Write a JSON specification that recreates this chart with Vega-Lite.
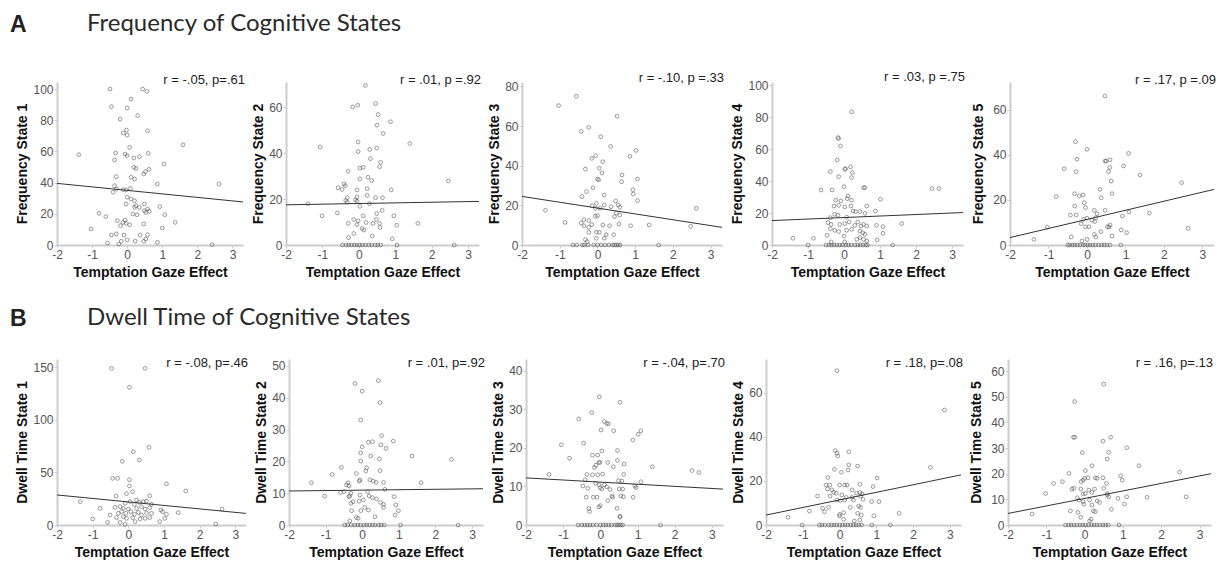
{
"$schema": "https://vega.github.io/schema/vega-lite/v6.json",
"padding": {"left": 9, "top": 12, "right": 4, "bottom": 2},
"background": "white",
"config": {
 "view": {"stroke": null},
 "axis": {"grid": false, "domainColor": "#cccccc", "domainWidth": 2, "tickColor": "#cccccc", "tickSize": 3, "labelColor": "#555555", "labelFont": "Liberation Sans", "labelFontSize": 12, "labelFlush": false, "labelOverlap": false, "labelPadding": 1, "titleFont": "Liberation Sans", "titleFontSize": 14, "titleFontWeight": "bold", "titleColor": "#111111"},
 "axisX": {"titlePadding": 5, "tickCount": 12, "labelExpr": "datum.value < 0 ? '-' + abs(datum.value) : '' + datum.value"},
 "axisY": {"titlePadding": 3, "labelOverlap": false, "tickCount": 12},
 "point": {"shape": "circle", "filled": false, "size": 14, "stroke": "#4a4a4a", "strokeWidth": 0.8},
 "line": {"color": "#333333", "strokeWidth": 1},
 "title": {"anchor": "end", "frame": "group", "font": "Liberation Sans", "fontSize": 13, "fontWeight": "normal", "color": "#222222", "offset": -5, "dx": 2}
},
"datasets": {
 "fits": [
  {"p": "f1", "x": -2, "y": 39.5}, {"p": "f1", "x": 3.3, "y": 27.6},
  {"p": "f2", "x": -2, "y": 17.5}, {"p": "f2", "x": 3.3, "y": 19},
  {"p": "f3", "x": -2, "y": 24.5}, {"p": "f3", "x": 3.3, "y": 8.9},
  {"p": "f4", "x": -2, "y": 15.3}, {"p": "f4", "x": 3.3, "y": 20.3},
  {"p": "f5", "x": -2, "y": 3.3}, {"p": "f5", "x": 3.3, "y": 24.7},
  {"p": "d1", "x": -2, "y": 28.5}, {"p": "d1", "x": 3.3, "y": 11},
  {"p": "d2", "x": -2, "y": 10.7}, {"p": "d2", "x": 3.3, "y": 11.4},
  {"p": "d3", "x": -2, "y": 12.2}, {"p": "d3", "x": 3.3, "y": 9.3},
  {"p": "d4", "x": -2, "y": 4.5}, {"p": "d4", "x": 3.3, "y": 22.7},
  {"p": "d5", "x": -2, "y": 4.5}, {"p": "d5", "x": 3.3, "y": 20}
 ],
 "f1": [
  {"x":-0.49,"y":100},{"x":0.44,"y":100},{"x":0.56,"y":98.5},{"x":0.11,"y":93.6},{"x":-0.45,"y":88.7},{"x":0,"y":87.8},{"x":0.3,"y":83},{"x":-0.2,"y":80.8},{"x":-0.11,"y":71.8},{"x":-0.02,"y":73.7},{"x":0,"y":70.5},{"x":0.58,"y":73.3},{"x":0.07,"y":62.6},{"x":1.59,"y":64.3},{"x":-1.38,"y":57.9},{"x":-0.33,"y":59},{"x":-0.06,"y":58.3},{"x":0,"y":57.3},{"x":0.19,"y":55.8},{"x":0.35,"y":56.6},{"x":0.6,"y":58.8},{"x":-0.36,"y":54.5},{"x":0.19,"y":49.8},{"x":0.25,"y":49.1},{"x":0.62,"y":48.5},{"x":0.52,"y":47},{"x":0.47,"y":45.5},{"x":1.05,"y":51.9},{"x":-0.31,"y":43.8},{"x":0.11,"y":43.4},{"x":0.21,"y":42.3},{"x":-0.36,"y":38},{"x":-0.31,"y":35.9},{"x":-0.12,"y":35.5},{"x":-0.03,"y":35.3},{"x":-0.4,"y":33.8},{"x":0.09,"y":36.3},{"x":0.86,"y":39.1},{"x":2.62,"y":39.1},{"x":0,"y":30.6},{"x":0.11,"y":29.5},{"x":0.21,"y":28.4},{"x":-0.03,"y":26.3},{"x":0.25,"y":25.2},{"x":0.35,"y":24.1},{"x":0.21,"y":24.1},{"x":0.49,"y":26.3},{"x":0.58,"y":23.1},{"x":0.49,"y":22},{"x":0.63,"y":21.6},{"x":0.53,"y":20.9},{"x":0.16,"y":19.9},{"x":0.28,"y":19.4},{"x":0.93,"y":24.6},{"x":1.07,"y":19.4},{"x":-0.8,"y":20.3},{"x":-0.61,"y":18.2},{"x":-0.28,"y":15.6},{"x":-0.12,"y":14.5},{"x":-0.03,"y":13.9},{"x":0.07,"y":13},{"x":-0.19,"y":12.4},{"x":-0.06,"y":16},{"x":0.47,"y":13.5},{"x":1.37,"y":14.5},{"x":-1.03,"y":10.3},{"x":1,"y":10.9},{"x":-0.45,"y":6.4},{"x":-0.31,"y":7.1},{"x":-0.09,"y":6.4},{"x":0.37,"y":6.4},{"x":0.58,"y":6.6},{"x":-0.56,"y":1.3},{"x":-0.17,"y":2.4},{"x":0.23,"y":2.4},{"x":0.47,"y":2.4},{"x":0.86,"y":1.7},{"x":-0.24,"y":0.6},{"x":2.42,"y":0.2},{"x":0,"y":3.2},{"x":0.53,"y":3.8}
 ],
 "f2": [
  {"x":0.18,"y":69.5},{"x":-0.17,"y":60.1},{"x":-0.03,"y":60.9},{"x":0.46,"y":61.6},{"x":0.53,"y":56.8},{"x":0.5,"y":52.2},{"x":0.87,"y":53.7},{"x":0.67,"y":48.6},{"x":-1.06,"y":42.7},{"x":-0.02,"y":44.9},{"x":1.4,"y":44.2},{"x":-0.02,"y":40.7},{"x":0.49,"y":42.2},{"x":0.3,"y":41.6},{"x":0.32,"y":37.6},{"x":0.12,"y":33.8},{"x":0.03,"y":33.5},{"x":0.57,"y":34.1},{"x":0.6,"y":36},{"x":-0.29,"y":32.1},{"x":0.03,"y":28.8},{"x":0.25,"y":29.5},{"x":0.35,"y":28.1},{"x":2.46,"y":27.9},{"x":-0.41,"y":26.6},{"x":-0.37,"y":25.8},{"x":-0.57,"y":24.9},{"x":-0.46,"y":24.2},{"x":0.23,"y":24.5},{"x":-0.05,"y":24},{"x":-0.05,"y":20.9},{"x":0.23,"y":21.6},{"x":-0.32,"y":20.6},{"x":-0.36,"y":19.4},{"x":-0.32,"y":18.7},{"x":-0.09,"y":19.7},{"x":-0.05,"y":19.1},{"x":0.03,"y":16.8},{"x":-1.4,"y":18},{"x":0.46,"y":20.6},{"x":0.65,"y":20.6},{"x":0.89,"y":24},{"x":0.29,"y":18},{"x":0.64,"y":15.1},{"x":0.49,"y":13.7},{"x":-0.59,"y":14},{"x":-1.01,"y":12.7},{"x":0.12,"y":12.7},{"x":-0.14,"y":11.1},{"x":-0.02,"y":10.5},{"x":0.48,"y":11.1},{"x":0.96,"y":12.7},{"x":-0.29,"y":9.4},{"x":-0.05,"y":8.9},{"x":0.2,"y":9.8},{"x":0.39,"y":9.4},{"x":0.57,"y":9.4},{"x":0.58,"y":7.6},{"x":1.04,"y":8.6},{"x":1.62,"y":9.4},{"x":-0.14,"y":5},{"x":0.14,"y":6.5},{"x":0.09,"y":7.2},{"x":0.37,"y":3.9},{"x":-0.28,"y":3.2},{"x":0.92,"y":2.7},
  {"x":-0.45,"y":0},{"x":-0.35,"y":0},{"x":-0.28,"y":0},{"x":-0.2,"y":0},{"x":-0.12,"y":0},{"x":-0.05,"y":0},{"x":0.02,"y":0},{"x":0.1,"y":0},{"x":0.18,"y":0},{"x":0.27,"y":0},{"x":0.35,"y":0},{"x":0.45,"y":0},{"x":0.52,"y":0},{"x":0.6,"y":0},{"x":1.05,"y":0},{"x":2.62,"y":0}
 ],
 "f3": [
  {"x":-0.56,"y":75},{"x":-1.03,"y":70.3},{"x":0.52,"y":64.9},{"x":-0.23,"y":59.3},{"x":-0.43,"y":57.3},{"x":0.09,"y":54.6},{"x":0.35,"y":49.7},{"x":-0.05,"y":45},{"x":-0.15,"y":43.7},{"x":0.86,"y":44.7},{"x":1.02,"y":47.7},{"x":0.14,"y":42},{"x":-0.32,"y":38.3},{"x":0.05,"y":38.7},{"x":0.12,"y":36.3},{"x":0.65,"y":35.3},{"x":1.06,"y":33.3},{"x":0,"y":33.3},{"x":0.03,"y":32.9},{"x":0.64,"y":31.9},{"x":-0.12,"y":28.9},{"x":-0.29,"y":26.9},{"x":0.94,"y":27.9},{"x":0.95,"y":25.7},{"x":0.18,"y":25.2},{"x":-0.41,"y":24.4},{"x":-0.03,"y":21},{"x":0.18,"y":20.2},{"x":0.48,"y":22.2},{"x":0.55,"y":20.2},{"x":1.06,"y":22.4},{"x":-0.14,"y":19.8},{"x":-0.05,"y":18.5},{"x":0.07,"y":18.5},{"x":0.36,"y":19.3},{"x":0.59,"y":19},{"x":-1.38,"y":17.5},{"x":2.62,"y":18.5},{"x":0.5,"y":16.1},{"x":0.59,"y":15.1},{"x":0.45,"y":14.3},{"x":-0.36,"y":12.8},{"x":-0.23,"y":12.3},{"x":-0.06,"y":14.5},{"x":0,"y":14.8},{"x":-0.86,"y":11.4},{"x":-0.15,"y":10.3},{"x":0.14,"y":10.1},{"x":0.32,"y":9.7},{"x":0.57,"y":10.6},{"x":0.88,"y":9.7},{"x":1.37,"y":10.1},{"x":2.47,"y":9.4},{"x":-0.43,"y":11.1},{"x":-0.36,"y":9.7},{"x":-0.23,"y":8.9},{"x":-0.03,"y":6.4},{"x":0.05,"y":6.4},{"x":-0.23,"y":6.4},{"x":0.23,"y":5.2},{"x":0.43,"y":5.2},{"x":-0.03,"y":3.4},{"x":0.18,"y":3.4},{"x":-0.32,"y":2.7},{"x":-0.27,"y":1.7},
  {"x":-0.65,"y":0},{"x":-0.55,"y":0},{"x":-0.4,"y":0},{"x":-0.35,"y":0},{"x":-0.25,"y":0},{"x":-0.1,"y":0},{"x":0,"y":0},{"x":0.1,"y":0},{"x":0.2,"y":0},{"x":0.3,"y":0},{"x":0.4,"y":0},{"x":0.45,"y":0},{"x":0.5,"y":0},{"x":0.55,"y":0},{"x":0.6,"y":0},{"x":1.62,"y":0}
 ],
 "f4": [
  {"x":0.21,"y":83.3},{"x":-0.17,"y":67.2},{"x":-0.15,"y":66.6},{"x":-0.1,"y":62},{"x":-0.19,"y":53.2},{"x":0.18,"y":48.9},{"x":0.02,"y":47.4},{"x":0.04,"y":47.8},{"x":0.23,"y":45.3},{"x":-0.38,"y":45.9},{"x":-0.15,"y":42.8},{"x":0.21,"y":42.2},{"x":0.54,"y":35.9},{"x":0.58,"y":35.9},{"x":0,"y":36.5},{"x":-0.64,"y":34.4},{"x":-0.33,"y":34.4},{"x":2.44,"y":35.3},{"x":2.63,"y":35.3},{"x":1.01,"y":28.6},{"x":-0.23,"y":28},{"x":-0.09,"y":27.6},{"x":0.11,"y":30.7},{"x":0.09,"y":29},{"x":0.21,"y":28},{"x":-0.28,"y":24.4},{"x":-0.15,"y":24.8},{"x":0.19,"y":24.4},{"x":0.02,"y":23.8},{"x":0.63,"y":24.4},{"x":-0.26,"y":19.2},{"x":-0.17,"y":18.6},{"x":0.07,"y":17.5},{"x":0.32,"y":20.9},{"x":0.44,"y":20.9},{"x":0.25,"y":21.3},{"x":0.87,"y":21.3},{"x":0.58,"y":19.8},{"x":-0.38,"y":17.1},{"x":-0.45,"y":14},{"x":-0.36,"y":12.9},{"x":-0.12,"y":12.9},{"x":0.02,"y":13.4},{"x":0.14,"y":14.4},{"x":0.38,"y":14.4},{"x":0.3,"y":12.3},{"x":0.47,"y":11.9},{"x":0.54,"y":12.9},{"x":0.63,"y":11.9},{"x":0.9,"y":12.3},{"x":1.08,"y":11.5},{"x":1.6,"y":13.4},{"x":-0.38,"y":10.2},{"x":-0.26,"y":9.2},{"x":-0.15,"y":8.4},{"x":0.07,"y":9.2},{"x":0.21,"y":9.8},{"x":0.44,"y":8.8},{"x":0.52,"y":7.7},{"x":0.58,"y":6.7},{"x":1.08,"y":7.3},{"x":-0.47,"y":6.1},{"x":0,"y":5.6},{"x":-0.85,"y":4.2},{"x":-1.42,"y":4.2},{"x":0.35,"y":3.5},{"x":0.54,"y":3.5},{"x":0.44,"y":4.6},{"x":0.92,"y":3.1},{"x":0.63,"y":2.5},{"x":-0.36,"y":1.9},{"x":0.02,"y":1.9},
  {"x":-1,"y":0},{"x":-0.5,"y":0},{"x":-0.42,"y":0},{"x":-0.35,"y":0},{"x":-0.28,"y":0},{"x":-0.2,"y":0},{"x":-0.12,"y":0},{"x":-0.05,"y":0},{"x":0.05,"y":0},{"x":0.12,"y":0},{"x":0.2,"y":0},{"x":0.3,"y":0},{"x":0.38,"y":0},{"x":0.45,"y":0},{"x":0.52,"y":0},{"x":0.6,"y":0},{"x":0.65,"y":0},{"x":1.35,"y":0}
 ],
 "f5": [
  {"x":0.47,"y":66.2},{"x":-0.3,"y":45.9},{"x":0,"y":42.5},{"x":1.08,"y":40.7},{"x":-0.26,"y":38.1},{"x":0.47,"y":37.3},{"x":0.5,"y":37.3},{"x":0.6,"y":37.8},{"x":-0.59,"y":33.9},{"x":-0.28,"y":32.6},{"x":0.59,"y":34.4},{"x":0.56,"y":32.6},{"x":0.95,"y":35.1},{"x":1.38,"y":31.1},{"x":0.63,"y":28.4},{"x":2.46,"y":27.7},{"x":0.34,"y":24.7},{"x":-0.32,"y":22.8},{"x":-0.2,"y":21.8},{"x":-0.1,"y":22.2},{"x":0.65,"y":22.8},{"x":-0.8,"y":21.5},{"x":0.37,"y":21},{"x":-0.32,"y":17.3},{"x":-0.07,"y":18.8},{"x":-0.04,"y":16.6},{"x":0.47,"y":15.4},{"x":0.19,"y":15.4},{"x":1.09,"y":14.7},{"x":1.62,"y":14.1},{"x":-0.43,"y":13.3},{"x":-0.28,"y":13.3},{"x":0.26,"y":13.9},{"x":0.23,"y":12.1},{"x":0.92,"y":12.9},{"x":0,"y":11.9},{"x":-0.09,"y":11.4},{"x":0.13,"y":11},{"x":0.2,"y":10.4},{"x":0.6,"y":8.9},{"x":0.53,"y":8.1},{"x":0.57,"y":8},{"x":-1.03,"y":8},{"x":-0.15,"y":9.5},{"x":-0.04,"y":8.1},{"x":0.05,"y":8.1},{"x":2.63,"y":7.4},{"x":0.36,"y":5.9},{"x":0.89,"y":6.7},{"x":1.03,"y":5.5},{"x":0.19,"y":4.7},{"x":0.23,"y":3.6},{"x":0.65,"y":4},{"x":-0.41,"y":3.6},{"x":-1.38,"y":2.5},{"x":-0.13,"y":1.8},{"x":0,"y":2.5},
  {"x":-0.5,"y":0},{"x":-0.45,"y":0},{"x":-0.38,"y":0},{"x":-0.32,"y":0},{"x":-0.25,"y":0},{"x":-0.18,"y":0},{"x":-0.1,"y":0},{"x":-0.05,"y":0},{"x":0.02,"y":0},{"x":0.08,"y":0},{"x":0.15,"y":0},{"x":0.22,"y":0},{"x":0.3,"y":0},{"x":0.38,"y":0},{"x":0.45,"y":0},{"x":0.52,"y":0},{"x":0.6,"y":0},{"x":0.88,"y":0}
 ],
 "d1": [
  {"x":-0.47,"y":148.7},{"x":0.47,"y":148.7},{"x":0.03,"y":130.7},{"x":0.58,"y":73.7},{"x":0.14,"y":69.6},{"x":0.31,"y":61.7},{"x":-0.17,"y":60.4},{"x":-0.44,"y":44.3},{"x":-0.3,"y":44.3},{"x":0.03,"y":43},{"x":1.07,"y":39.2},{"x":1.61,"y":32.3},{"x":0.03,"y":37},{"x":-0.34,"y":27.5},{"x":-0.05,"y":29.7},{"x":0.12,"y":31.6},{"x":0.6,"y":27.8},{"x":-1.35,"y":22.2},{"x":0.23,"y":23.7},{"x":0.42,"y":22.2},{"x":0.51,"y":22.8},{"x":-0.09,"y":20.6},{"x":0.05,"y":22.2},{"x":0.17,"y":19.6},{"x":0.31,"y":21.5},{"x":0.65,"y":19.6},{"x":-0.79,"y":15.8},{"x":-0.37,"y":16.8},{"x":-0.23,"y":17.4},{"x":-0.14,"y":15.8},{"x":0,"y":15.2},{"x":0.23,"y":15.8},{"x":0.37,"y":17.4},{"x":0.47,"y":15.2},{"x":0.6,"y":16.5},{"x":2.63,"y":15.2},{"x":-0.51,"y":9.5},{"x":-0.28,"y":11.1},{"x":-0.19,"y":12.7},{"x":-0.07,"y":11.1},{"x":0.07,"y":12.7},{"x":0.17,"y":10.1},{"x":0.28,"y":12},{"x":0.37,"y":9.5},{"x":0.51,"y":11.1},{"x":0.65,"y":11.1},{"x":0.91,"y":14.2},{"x":0.96,"y":12.7},{"x":1.07,"y":10.1},{"x":1.4,"y":11.7},{"x":-0.33,"y":7},{"x":-0.14,"y":7.9},{"x":-0.05,"y":6.3},{"x":0.12,"y":7},{"x":0.33,"y":5.7},{"x":0.47,"y":6.3},{"x":0.6,"y":7},{"x":-1,"y":5.7},{"x":1.02,"y":6.3},{"x":-0.58,"y":2.5},{"x":-0.23,"y":2.5},{"x":0.19,"y":3.2},{"x":0.88,"y":3.2},{"x":2.45,"y":0.9},{"x":-0.09,"y":0.6}
 ],
 "d2": [
  {"x":0.44,"y":45.4},{"x":-0.2,"y":44.5},{"x":0,"y":42.1},{"x":0.49,"y":38.5},{"x":-0.04,"y":33},{"x":0.53,"y":28.1},{"x":0.17,"y":26},{"x":0.28,"y":26.2},{"x":0.85,"y":26.4},{"x":0.51,"y":25.2},{"x":0.65,"y":24.1},{"x":0,"y":24.6},{"x":-0.04,"y":22.7},{"x":0.23,"y":21.7},{"x":1.36,"y":21.7},{"x":2.44,"y":20.6},{"x":-0.04,"y":20.1},{"x":0.47,"y":20.8},{"x":-0.57,"y":18.1},{"x":0.12,"y":18},{"x":0.1,"y":17},{"x":0.49,"y":17.1},{"x":-0.82,"y":15.9},{"x":-0.16,"y":16.2},{"x":-0.06,"y":14.2},{"x":-0.08,"y":13.8},{"x":0.21,"y":14.2},{"x":0.3,"y":13.8},{"x":0.38,"y":13.4},{"x":-0.39,"y":13.3},{"x":-1.39,"y":13.3},{"x":-0.43,"y":12.6},{"x":-0.36,"y":12.3},{"x":0.58,"y":13.4},{"x":1.61,"y":13.3},{"x":0.62,"y":11.2},{"x":-0.5,"y":10.5},{"x":-0.31,"y":10},{"x":-0.06,"y":9.4},{"x":0.15,"y":10.5},{"x":-0.59,"y":10.2},{"x":-0.34,"y":9.2},{"x":0.19,"y":9.1},{"x":-0.36,"y":8.9},{"x":-1.03,"y":9.1},{"x":0.87,"y":8.9},{"x":0.28,"y":8.6},{"x":0.39,"y":8.2},{"x":-0.08,"y":7.5},{"x":0.03,"y":7.9},{"x":-0.25,"y":7.3},{"x":0.5,"y":7.1},{"x":0.58,"y":6.5},{"x":0.58,"y":5.6},{"x":0.92,"y":6.3},{"x":-0.31,"y":6.8},{"x":0.07,"y":5.5},{"x":0.17,"y":4.7},{"x":0.99,"y":4.5},{"x":-0.29,"y":4.5},{"x":-0.04,"y":4.5},{"x":0.9,"y":3.1},{"x":-0.16,"y":2.3},{"x":0.35,"y":2.6},{"x":-0.11,"y":2.1},{"x":-0.34,"y":1.3},
  {"x":-0.48,"y":0},{"x":-0.4,"y":0},{"x":-0.3,"y":0},{"x":-0.2,"y":0},{"x":-0.12,"y":0},{"x":-0.05,"y":0},{"x":0.05,"y":0},{"x":0.12,"y":0},{"x":0.2,"y":0},{"x":0.28,"y":0},{"x":0.35,"y":0},{"x":0.45,"y":0},{"x":0.52,"y":0},{"x":0.6,"y":0},{"x":1.05,"y":0},{"x":2.62,"y":0}
 ],
 "d3": [
  {"x":-0.03,"y":33.2},{"x":0.53,"y":31.8},{"x":-0.58,"y":27.5},{"x":-0.23,"y":29.1},{"x":0.11,"y":26.8},{"x":0.17,"y":26.3},{"x":0.22,"y":26.2},{"x":0.36,"y":24.4},{"x":0.02,"y":24.6},{"x":1.09,"y":24.4},{"x":1.02,"y":23.5},{"x":0.88,"y":22},{"x":-1.05,"y":20.8},{"x":-0.45,"y":21.2},{"x":0.46,"y":19.3},{"x":-0.83,"y":17.3},{"x":-0.21,"y":18.1},{"x":-0.07,"y":18.1},{"x":0.04,"y":19.2},{"x":-0.04,"y":16.2},{"x":-0.01,"y":16.2},{"x":0.46,"y":16.7},{"x":0.2,"y":16.2},{"x":0.64,"y":15.8},{"x":-0.16,"y":14.9},{"x":-0.12,"y":15.5},{"x":0.35,"y":15.1},{"x":1.4,"y":15.1},{"x":2.47,"y":14.1},{"x":2.65,"y":13.6},{"x":-1.38,"y":13.1},{"x":-0.36,"y":13.1},{"x":-0.21,"y":13},{"x":-0.07,"y":13},{"x":0.06,"y":13.2},{"x":0.63,"y":13.1},{"x":-0.41,"y":11.7},{"x":0.49,"y":11.5},{"x":0.58,"y":11.4},{"x":1.09,"y":11.2},{"x":-0.47,"y":10.1},{"x":-0.34,"y":9.5},{"x":-0.13,"y":10.8},{"x":-0.03,"y":10.4},{"x":0.11,"y":10.4},{"x":0,"y":9.7},{"x":0.04,"y":9.3},{"x":0.17,"y":9.9},{"x":0.26,"y":9.2},{"x":0.93,"y":10.1},{"x":0.96,"y":9.7},{"x":0.51,"y":9.3},{"x":0.6,"y":9.3},{"x":-0.38,"y":7.2},{"x":-0.19,"y":7.2},{"x":-0.09,"y":7.2},{"x":0.31,"y":7.5},{"x":0.33,"y":7.2},{"x":0.55,"y":7.5},{"x":0.62,"y":7.3},{"x":0.88,"y":7.2},{"x":0.2,"y":6.3},{"x":-0.31,"y":4.3},{"x":-0.29,"y":3.5},{"x":-0.04,"y":4.7},{"x":0,"y":5},{"x":0.45,"y":4.3},{"x":0.53,"y":2.3},{"x":0.53,"y":2},
  {"x":-0.6,"y":0},{"x":-0.5,"y":0},{"x":-0.42,"y":0},{"x":-0.35,"y":0},{"x":-0.28,"y":0},{"x":-0.2,"y":0},{"x":-0.1,"y":0},{"x":0,"y":0},{"x":0.08,"y":0},{"x":0.15,"y":0},{"x":0.22,"y":0},{"x":0.3,"y":0},{"x":0.4,"y":0},{"x":0.45,"y":0},{"x":0.5,"y":0},{"x":0.55,"y":0},{"x":0.6,"y":0},{"x":1.62,"y":0}
 ],
 "d4": [
  {"x":-0.07,"y":69.9},{"x":2.85,"y":52.1},{"x":-0.12,"y":33.7},{"x":-0.07,"y":32.5},{"x":-0.05,"y":31.3},{"x":0.25,"y":33.2},{"x":-0.14,"y":25.2},{"x":0.25,"y":27.2},{"x":0.23,"y":24.9},{"x":0.49,"y":26.7},{"x":0.05,"y":23.9},{"x":2.47,"y":26.1},{"x":1.02,"y":21.3},{"x":-0.32,"y":21.5},{"x":-0.37,"y":18.1},{"x":-0.27,"y":18.1},{"x":0,"y":18.1},{"x":0.14,"y":18.1},{"x":0.2,"y":18.1},{"x":0.55,"y":18.4},{"x":-0.33,"y":16.3},{"x":-0.21,"y":15.9},{"x":0.34,"y":15.9},{"x":0.91,"y":17.4},{"x":-0.16,"y":14.8},{"x":-0.09,"y":14.4},{"x":0.46,"y":14.4},{"x":0.55,"y":14.7},{"x":0.61,"y":14.1},{"x":-0.6,"y":13.1},{"x":-0.26,"y":13.1},{"x":0.06,"y":13.6},{"x":0.18,"y":12.5},{"x":0.34,"y":12.5},{"x":0.57,"y":13.1},{"x":-0.07,"y":11.3},{"x":0.02,"y":11},{"x":0.14,"y":11.3},{"x":0.38,"y":11.3},{"x":0.64,"y":11.6},{"x":1.07,"y":10.6},{"x":0.87,"y":10.6},{"x":-0.46,"y":7.6},{"x":-0.3,"y":8},{"x":0.29,"y":8},{"x":0.52,"y":8.6},{"x":0.57,"y":8},{"x":-0.82,"y":6.3},{"x":-0.41,"y":6},{"x":0.11,"y":5.6},{"x":0.49,"y":5.3},{"x":0.59,"y":4.5},{"x":0,"y":4.8},{"x":0,"y":4.1},{"x":0.93,"y":4.2},{"x":1.62,"y":5.3},{"x":0.55,"y":2.3},{"x":0.11,"y":2.6},{"x":-1.4,"y":3.5},{"x":0.4,"y":1.8},
  {"x":-1.02,"y":0},{"x":-0.55,"y":0},{"x":-0.48,"y":0},{"x":-0.4,"y":0},{"x":-0.3,"y":0},{"x":-0.22,"y":0},{"x":-0.15,"y":0},{"x":-0.08,"y":0},{"x":0,"y":0},{"x":0.08,"y":0},{"x":0.15,"y":0},{"x":0.22,"y":0},{"x":0.3,"y":0},{"x":0.38,"y":0},{"x":0.45,"y":0},{"x":0.52,"y":0},{"x":0.6,"y":0},{"x":0.88,"y":0},{"x":1.38,"y":0}
 ],
 "d5": [
  {"x":0.5,"y":54.9},{"x":-0.26,"y":48.1},{"x":-0.29,"y":34.2},{"x":-0.26,"y":34.2},{"x":0.68,"y":34.2},{"x":0.48,"y":32.7},{"x":-0.06,"y":28.2},{"x":0.63,"y":28.3},{"x":1.1,"y":30.1},{"x":0.59,"y":25.7},{"x":0.19,"y":23.1},{"x":1.42,"y":23.1},{"x":0.02,"y":21.2},{"x":-0.41,"y":20.1},{"x":2.48,"y":20.6},{"x":0.94,"y":19.2},{"x":0.98,"y":17.5},{"x":-0.81,"y":16.2},{"x":-0.58,"y":16.9},{"x":-0.09,"y":16.9},{"x":-0.04,"y":17.5},{"x":0,"y":18.2},{"x":0.09,"y":18.4},{"x":0.28,"y":18.4},{"x":0.33,"y":18.2},{"x":0.48,"y":18.4},{"x":0.57,"y":16.2},{"x":-0.33,"y":14},{"x":-0.28,"y":14.3},{"x":-0.1,"y":14},{"x":0.11,"y":13.6},{"x":0.26,"y":14},{"x":0.5,"y":14.3},{"x":-1.02,"y":12.3},{"x":-0.04,"y":12.1},{"x":0.02,"y":12.3},{"x":0.19,"y":12.7},{"x":0.59,"y":12.3},{"x":0.59,"y":11.7},{"x":0.63,"y":11},{"x":0.87,"y":10.4},{"x":1.1,"y":11},{"x":1.63,"y":10.8},{"x":2.65,"y":11},{"x":-0.19,"y":10.6},{"x":-0.15,"y":9.7},{"x":-0.04,"y":9.1},{"x":0.13,"y":9.7},{"x":0.33,"y":9.4},{"x":0.39,"y":8.8},{"x":-0.02,"y":8.1},{"x":0.19,"y":7.8},{"x":1.04,"y":8.2},{"x":-0.37,"y":5.5},{"x":-0.17,"y":4.9},{"x":0.23,"y":5.5},{"x":0.28,"y":5.2},{"x":0.7,"y":6.1},{"x":-1.37,"y":4.3},{"x":-0.1,"y":3},{"x":0.17,"y":2.3},{"x":0.13,"y":1.6},
  {"x":-0.5,"y":0},{"x":-0.42,"y":0},{"x":-0.35,"y":0},{"x":-0.28,"y":0},{"x":-0.2,"y":0},{"x":-0.12,"y":0},{"x":-0.05,"y":0},{"x":0.02,"y":0},{"x":0.1,"y":0},{"x":0.18,"y":0},{"x":0.25,"y":0},{"x":0.32,"y":0},{"x":0.4,"y":0},{"x":0.48,"y":0},{"x":0.55,"y":0},{"x":0.62,"y":0},{"x":0.9,"y":0}
 ]
},
"spacing": 27,
"vconcat": [
 {
  "title": {"text": "A", "anchor": "start", "frame": "bounds", "font": "Liberation Sans", "fontSize": 23, "fontWeight": "bold", "color": "#222222", "offset": -25, "dx": -6},
  "vconcat": [
   {
    "title": {"text": "Frequency of Cognitive States", "anchor": "start", "frame": "bounds", "font": "Lato", "fontSize": 24, "fontWeight": "normal", "color": "#2a2a2a", "offset": 35, "dx": 71},
    "spacing": 6,
    "hconcat": [
     {"width": 186, "height": 163, "title": {"text": "r = -.05, p=.61"}, "layer": [
      {"data": {"name": "f1"}, "mark": "point", "encoding": {"x": {"field": "x", "type": "quantitative", "title": "Temptation Gaze Effect", "scale": {"domain": [-2, 3.3], "nice": false, "zero": false}, "axis": {"values": [-2, -1, 0, 1, 2, 3], "tickCount": 12}}, "y": {"field": "y", "type": "quantitative", "title": "Frequency State 1", "scale": {"domain": [0, 104.5], "nice": false}, "axis": {"values": [0, 20, 40, 60, 80, 100], "tickCount": 12}}}},
      {"data": {"name": "fits"}, "transform": [{"filter": "datum.p === 'f1'"}], "mark": "line", "encoding": {"x": {"field": "x", "type": "quantitative"}, "y": {"field": "y", "type": "quantitative"}}}]},
     {"width": 193, "height": 163, "title": {"text": "r = .01, p =.92"}, "layer": [
      {"data": {"name": "f2"}, "mark": "point", "encoding": {"x": {"field": "x", "type": "quantitative", "title": "Temptation Gaze Effect", "scale": {"domain": [-2, 3.3], "nice": false, "zero": false}, "axis": {"values": [-2, -1, 0, 1, 2, 3], "tickCount": 12}}, "y": {"field": "y", "type": "quantitative", "title": "Frequency State 2", "scale": {"domain": [0, 71], "nice": false}, "axis": {"values": [0, 20, 40, 60], "tickCount": 12}}}},
      {"data": {"name": "fits"}, "transform": [{"filter": "datum.p === 'f2'"}], "mark": "line", "encoding": {"x": {"field": "x", "type": "quantitative"}, "y": {"field": "y", "type": "quantitative"}}}]},
     {"width": 200, "height": 163, "title": {"text": "r = -.10, p =.33"}, "layer": [
      {"data": {"name": "f3"}, "mark": "point", "encoding": {"x": {"field": "x", "type": "quantitative", "title": "Temptation Gaze Effect", "scale": {"domain": [-2, 3.3], "nice": false, "zero": false}, "axis": {"values": [-2, -1, 0, 1, 2, 3], "tickCount": 12}}, "y": {"field": "y", "type": "quantitative", "title": "Frequency State 3", "scale": {"domain": [0, 82.2], "nice": false}, "axis": {"values": [0, 20, 40, 60, 80], "tickCount": 12}}}},
      {"data": {"name": "fits"}, "transform": [{"filter": "datum.p === 'f3'"}], "mark": "line", "encoding": {"x": {"field": "x", "type": "quantitative"}, "y": {"field": "y", "type": "quantitative"}}}]},
     {"width": 191, "height": 163, "title": {"text": "r = .03, p =.75"}, "layer": [
      {"data": {"name": "f4"}, "mark": "point", "encoding": {"x": {"field": "x", "type": "quantitative", "title": "Temptation Gaze Effect", "scale": {"domain": [-2, 3.3], "nice": false, "zero": false}, "axis": {"values": [-2, -1, 0, 1, 2, 3], "tickCount": 12}}, "y": {"field": "y", "type": "quantitative", "title": "Frequency State 4", "scale": {"domain": [0, 102], "nice": false}, "axis": {"values": [0, 20, 40, 60, 80, 100], "tickCount": 12}}}},
      {"data": {"name": "fits"}, "transform": [{"filter": "datum.p === 'f4'"}], "mark": "line", "encoding": {"x": {"field": "x", "type": "quantitative"}, "y": {"field": "y", "type": "quantitative"}}}]},
     {"width": 204, "height": 163, "title": {"text": "r = .17, p =.09"}, "layer": [
      {"data": {"name": "f5"}, "mark": "point", "encoding": {"x": {"field": "x", "type": "quantitative", "title": "Temptation Gaze Effect", "scale": {"domain": [-2, 3.3], "nice": false, "zero": false}, "axis": {"values": [-2, -1, 0, 1, 2, 3], "tickCount": 12}}, "y": {"field": "y", "type": "quantitative", "title": "Frequency State 5", "scale": {"domain": [0, 72.4], "nice": false}, "axis": {"values": [0, 20, 40, 60], "tickCount": 12, "titlePadding": 7}}}},
      {"data": {"name": "fits"}, "transform": [{"filter": "datum.p === 'f5'"}], "mark": "line", "encoding": {"x": {"field": "x", "type": "quantitative"}, "y": {"field": "y", "type": "quantitative"}}}]}
    ]
   }
  ]
 },
 {
  "title": {"text": "B", "anchor": "start", "frame": "bounds", "font": "Liberation Sans", "fontSize": 23, "fontWeight": "bold", "color": "#222222", "offset": -25, "dx": -6},
  "vconcat": [
   {
    "title": {"text": "Dwell Time of Cognitive States", "anchor": "start", "frame": "bounds", "font": "Lato", "fontSize": 24, "fontWeight": "normal", "color": "#2a2a2a", "offset": 27, "dx": 71},
    "spacing": 6,
    "hconcat": [
     {"width": 189, "height": 166, "title": {"text": "r = -.08, p=.46", "offset": -11}, "layer": [
      {"data": {"name": "d1"}, "mark": "point", "encoding": {"x": {"field": "x", "type": "quantitative", "title": "Temptation Gaze Effect", "scale": {"domain": [-2, 3.3], "nice": false, "zero": false}, "axis": {"values": [-2, -1, 0, 1, 2, 3], "tickCount": 12}}, "y": {"field": "y", "type": "quantitative", "title": "Dwell Time State 1", "scale": {"domain": [0, 157.6], "nice": false}, "axis": {"values": [0, 50, 100, 150], "tickCount": 12}}}},
      {"data": {"name": "fits"}, "transform": [{"filter": "datum.p === 'd1'"}], "mark": "line", "encoding": {"x": {"field": "x", "type": "quantitative"}, "y": {"field": "y", "type": "quantitative"}}}]},
     {"width": 194, "height": 166, "title": {"text": "r = .01, p=.92", "offset": -11}, "layer": [
      {"data": {"name": "d2"}, "mark": "point", "encoding": {"x": {"field": "x", "type": "quantitative", "title": "Temptation Gaze Effect", "scale": {"domain": [-2, 3.3], "nice": false, "zero": false}, "axis": {"values": [-2, -1, 0, 1, 2, 3], "tickCount": 12}}, "y": {"field": "y", "type": "quantitative", "title": "Dwell Time State 2", "scale": {"domain": [0, 52.2], "nice": false}, "axis": {"values": [0, 10, 20, 30, 40, 50], "tickCount": 12}}}},
      {"data": {"name": "fits"}, "transform": [{"filter": "datum.p === 'd2'"}], "mark": "line", "encoding": {"x": {"field": "x", "type": "quantitative"}, "y": {"field": "y", "type": "quantitative"}}}]},
     {"width": 197, "height": 166, "title": {"text": "r = -.04, p=.70", "offset": -11}, "layer": [
      {"data": {"name": "d3"}, "mark": "point", "encoding": {"x": {"field": "x", "type": "quantitative", "title": "Temptation Gaze Effect", "scale": {"domain": [-2, 3.3], "nice": false, "zero": false}, "axis": {"values": [-2, -1, 0, 1, 2, 3], "tickCount": 12}}, "y": {"field": "y", "type": "quantitative", "title": "Dwell Time State 3", "scale": {"domain": [0, 43], "nice": false}, "axis": {"values": [0, 10, 20, 30, 40], "tickCount": 12}}}},
      {"data": {"name": "fits"}, "transform": [{"filter": "datum.p === 'd3'"}], "mark": "line", "encoding": {"x": {"field": "x", "type": "quantitative"}, "y": {"field": "y", "type": "quantitative"}}}]},
     {"width": 195, "height": 166, "title": {"text": "r = .18, p=.08", "offset": -11}, "layer": [
      {"data": {"name": "d4"}, "mark": "point", "encoding": {"x": {"field": "x", "type": "quantitative", "title": "Temptation Gaze Effect", "scale": {"domain": [-2, 3.3], "nice": false, "zero": false}, "axis": {"values": [-2, -1, 0, 1, 2, 3], "tickCount": 12}}, "y": {"field": "y", "type": "quantitative", "title": "Dwell Time State 4", "scale": {"domain": [0, 75.2], "nice": false}, "axis": {"values": [0, 20, 40, 60], "tickCount": 12}}}},
      {"data": {"name": "fits"}, "transform": [{"filter": "datum.p === 'd4'"}], "mark": "line", "encoding": {"x": {"field": "x", "type": "quantitative"}, "y": {"field": "y", "type": "quantitative"}}}]},
     {"width": 203, "height": 166, "title": {"text": "r = .16, p=.13", "offset": -11}, "layer": [
      {"data": {"name": "d5"}, "mark": "point", "encoding": {"x": {"field": "x", "type": "quantitative", "title": "Temptation Gaze Effect", "scale": {"domain": [-2, 3.3], "nice": false, "zero": false}, "axis": {"values": [-2, -1, 0, 1, 2, 3], "tickCount": 12}}, "y": {"field": "y", "type": "quantitative", "title": "Dwell Time State 5", "scale": {"domain": [0, 64.7], "nice": false}, "axis": {"values": [0, 10, 20, 30, 40, 50, 60], "tickCount": 12, "titlePadding": 7}}}},
      {"data": {"name": "fits"}, "transform": [{"filter": "datum.p === 'd5'"}], "mark": "line", "encoding": {"x": {"field": "x", "type": "quantitative"}, "y": {"field": "y", "type": "quantitative"}}}]}
    ]
   }
  ]
 }
]
}
